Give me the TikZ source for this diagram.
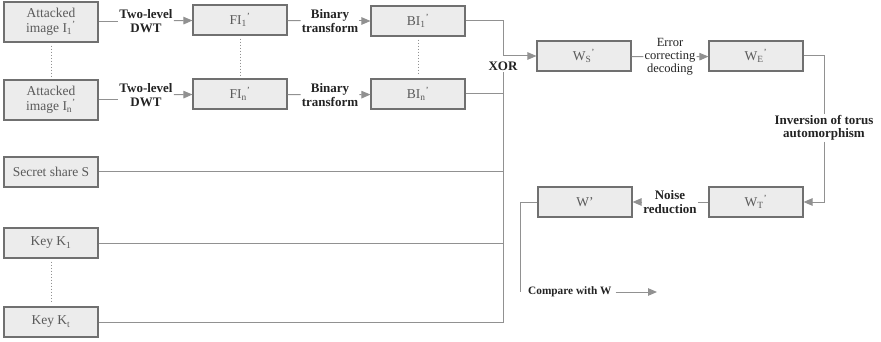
\documentclass[tikz,border=0pt]{standalone}
\usepackage{fontspec}
\setmainfont{Liberation Serif}
\usetikzlibrary{arrows.meta,positioning,calc}
\definecolor{BoxFill}{RGB}{236,236,236}
\definecolor{BoxLine}{RGB}{112,112,112}
\definecolor{Wire}{RGB}{145,145,145}
\definecolor{Ink}{RGB}{35,35,35}
\newcommand{\pr}{\textsuperscript{'}}
\begin{document}
\begin{tikzpicture}[x=1pt,y=-1pt, every node/.style={font=\fontsize{13.5}{15}\selectfont,text=Ink}, b/.style={draw=BoxLine,fill=BoxFill,line width=1.1pt,minimum width=94pt,minimum height=30pt,inner sep=2pt,align=center,text=Ink!75}, lbl/.style={font=\fontsize{13}{13.5}\selectfont\bfseries,align=center,inner sep=1pt}, w/.style={draw=Wire,line width=1pt}, arr/.style={w,-{Triangle[length=9pt,width=7.5pt]}}, dots/.style={draw=Wire,line width=1pt,dotted,shorten >=3pt,shorten <=3pt}]
\useasboundingbox (0,0) rectangle (881,342);
\node[b,minimum height=40pt] (att1) at (51,22) {Attacked\\image I\textsubscript{1}\pr};
\node[b,minimum height=40pt] (attn) at (51,100) {Attacked\\image I\textsubscript{n}\pr};
\node[b] (fi1) at (240,20) {FI\textsubscript{1}\pr};
\node[b] (fin) at (240,94) {FI\textsubscript{n}\pr};
\node[b] (bi1) at (418,21) {BI\textsubscript{1}\pr};
\node[b] (bin) at (418,94) {BI\textsubscript{n}\pr};
\node[b] (sec) at (51,172) {Secret share S};
\node[b] (k1) at (51,243) {Key K\textsubscript{1}};
\node[b] (kt) at (51,322) {Key K\textsubscript{t}};
\node[b] (ws) at (584,56) {W\textsubscript{S}\pr};
\node[b] (we) at (756,56) {W\textsubscript{E}\pr};
\node[b] (wt) at (756,202) {W\textsubscript{T}\pr};
\node[b] (wp) at (585,202) {W'};
\node[lbl] (dwt1) at (146,21) {Two-level\\DWT};
\node[lbl] (dwtn) at (146,95) {Two-level\\DWT};
\node[lbl] (bt1) at (330,21) {Binary\\transform};
\node[lbl] (btn) at (330,95) {Binary\\transform};
\node[lbl] (xor) at (503,66) {XOR};
\node[lbl,font=\fontsize{12.5}{13}\selectfont] (ecd) at (670,57) {Error\\correcting\\decoding};
\node[lbl,fill=white] (inv) at (824,128) {Inversion of torus\\automorphism};
\node[lbl] (nr) at (670,202) {Noise\\reduction};
\node[lbl,font=\fontsize{11.3}{12}\selectfont\bfseries,anchor=west,inner sep=0pt] (cmp) at (520,292) {\hspace{8pt}Compare with W};
\coordinate (xj) at (503,56);
\coordinate (cmpend) at (657,292);
\draw[w] (att1) -- (dwt1.west |- att1); \draw[arr] (dwt1) -- (fi1);
\draw[w] (attn) -- (dwtn.west |- attn); \draw[arr] (dwtn) -- (fin);
\draw[w] (fi1) -- (bt1); \draw[arr] (bt1) -- (bi1);
\draw[w] (fin) -- (btn); \draw[arr] (btn) -- (bin);
\draw[dots] (att1) -- (attn);
\draw[dots] (fi1) -- (fin);
\draw[dots] (bi1) -- (bin);
\draw[dots] (k1) -- (kt);
\draw[w] (bi1) -| (xj); \draw[arr] (xj) -- (ws);
\draw[w] (kt) -| (xor.south);
\draw[w] (bin) -- (bin -| xor);
\draw[w] (sec) -- (sec -| xor);
\draw[w] (k1) -- (k1 -| xor);
\draw[w] (ws) -- (ecd); \draw[arr] (ecd) -- (we);
\draw[w] (we) -| (inv); \draw[arr] (inv) |- (wt);
\draw[w] (wt) -- (nr); \draw[arr] (nr) -- (wp);
\draw[w] (wp) -| (cmp.west);
\draw[arr] (cmp.east) ++(4,0) -- (cmpend);
\end{tikzpicture}
\end{document}
